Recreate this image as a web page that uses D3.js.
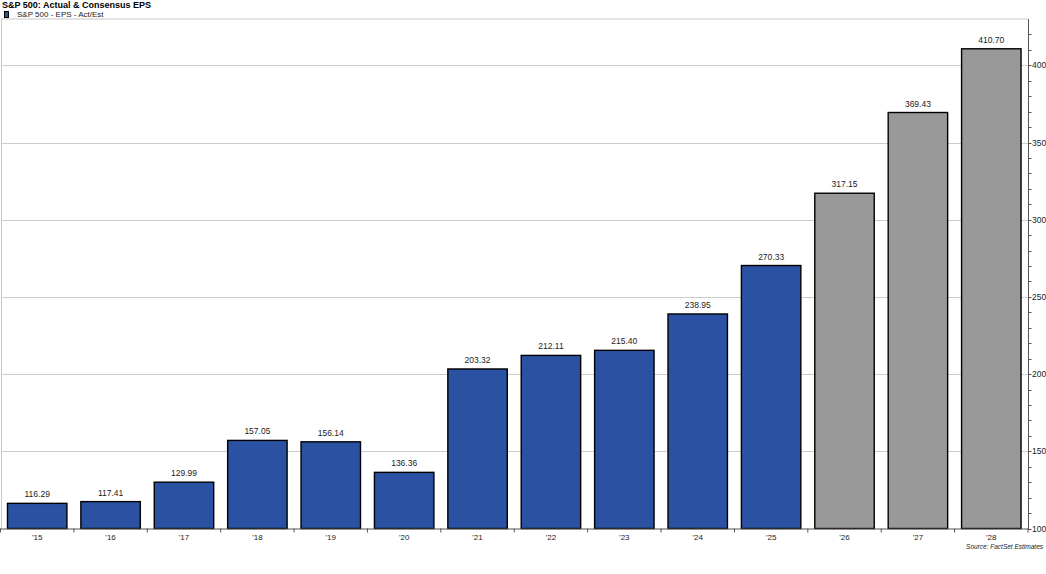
<!DOCTYPE html>
<html><head><meta charset="utf-8">
<script src="https://cdn.jsdelivr.net/npm/d3@7"></script>
<style>body{margin:0;background:#fff}svg{display:block;font-family:"Liberation Sans",Arial,sans-serif}</style>
</head><body><svg id="c" width="1046" height="574"></svg>
<script>
const categories = ["'15","'16","'17","'18","'19","'20","'21","'22","'23","'24","'25","'26","'27","'28"];
const eps = [116.29,117.41,129.99,157.05,156.14,136.36,203.32,212.11,215.40,238.95,270.33,317.15,369.43,410.70];
const estimate = [false,false,false,false,false,false,false,false,false,false,false,true,true,true];
const yMajorTicks = [100,150,200,250,300,350,400];
const yMinorTicks = d3.range(100, 421, 10);

const svg = d3.select("#c");
const L = 0.5, R = 1028, T = 19, B = 528.5;
const x = d3.scaleBand().domain(categories).range([L, R]).paddingInner(0.19).paddingOuter(0.095);
const y = d3.scaleLinear().domain([100, 430]).range([B, T]);

// frame
svg.append("line").attr("x1",1).attr("x2",R).attr("y1",T).attr("y2",T).attr("stroke","#c8c8c8");
svg.append("line").attr("x1",1.5).attr("x2",1.5).attr("y1",T).attr("y2",B).attr("stroke","#c8c8c8");

// grid
svg.append("g").selectAll("line").data(yMajorTicks.filter(d=>d>100)).join("line")
  .attr("x1",1).attr("x2",R).attr("y1",d=>Math.round(y(d))+0.5).attr("y2",d=>Math.round(y(d))+0.5)
  .attr("stroke","#cccccc");

// bars
const data = categories.map((c,i)=>({c, v:eps[i], est:estimate[i]}));
svg.append("g").selectAll("rect").data(data).join("rect")
  .attr("x",d=>x(d.c)).attr("width",x.bandwidth())
  .attr("y",d=>y(d.v)).attr("height",d=>B-y(d.v))
  .attr("fill",d=>d.est?"#999999":"#2a51a2")
  .attr("stroke","#000").attr("stroke-width",1.4);

// value labels
svg.append("g").selectAll("text").data(data).join("text")
  .attr("x",d=>x(d.c)+x.bandwidth()/2).attr("y",d=>y(d.v)-6)
  .attr("text-anchor","middle").attr("font-size",8.5).attr("fill","#222")
  .text(d=>d.v.toFixed(2));

// x axis
const xa = svg.append("g").attr("transform",`translate(0,${B})`);
xa.append("line").attr("x1",0).attr("x2",R).attr("y1",0.5).attr("y2",0.5).attr("stroke","#555");
const step = x.step();
xa.selectAll("line.t").data(d3.range(0, categories.length+1)).join("line").attr("class","t")
  .attr("x1",i=>L+i*step).attr("x2",i=>L+i*step)
  .attr("y1",0).attr("y2",4).attr("stroke","#555");
xa.selectAll("text").data(categories).join("text")
  .attr("x",d=>x(d)+x.bandwidth()/2).attr("y",11)
  .attr("text-anchor","middle").attr("font-size",8).attr("fill","#222").text(d=>d);

// right y axis
const ya = svg.append("g");
ya.append("line").attr("x1",R+0.5).attr("x2",R+0.5).attr("y1",T).attr("y2",B+1).attr("stroke","#555");
ya.selectAll("line.m").data(yMinorTicks).join("line").attr("class","m")
  .attr("x1",R).attr("x2",R+3.5).attr("y1",d=>Math.round(y(d))+0.5).attr("y2",d=>Math.round(y(d))+0.5).attr("stroke","#555");
ya.selectAll("text").data(yMajorTicks).join("text")
  .attr("x",R+4).attr("y",d=>y(d)+3).attr("font-size",8.5).attr("fill","#222").text(d=>d);

// title & legend
svg.append("text").attr("x",2).attr("y",8).attr("font-size",9).attr("font-weight","bold").attr("fill","#000")
  .text("S&P 500: Actual & Consensus EPS");
svg.append("rect").attr("x",4.5).attr("y",11.5).attr("width",4).attr("height",6).attr("fill","#2a51a2").attr("stroke","#000").attr("stroke-width",1);
svg.append("text").attr("x",17).attr("y",17).attr("font-size",8).attr("fill","#222").text("S&P 500 - EPS - Act/Est");

// source
svg.append("text").attr("x",1043).attr("y",549).attr("text-anchor","end").attr("font-size",6.5).attr("font-style","italic").attr("fill","#222")
  .text("Source: FactSet Estimates");
</script></body></html>
